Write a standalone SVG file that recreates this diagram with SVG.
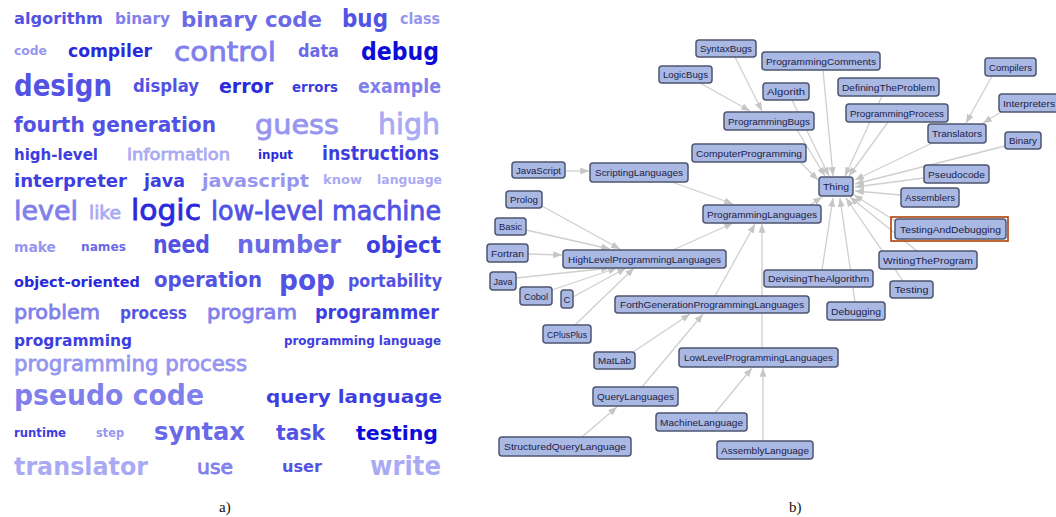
<svg xmlns="http://www.w3.org/2000/svg" width="1056" height="517" viewBox="0 0 1056 517">
<style>
.w{font-family:"DejaVu Sans","Liberation Sans",sans-serif;font-weight:bold;stroke-width:0}
.r{font-weight:normal;stroke-width:0.8}
.c1{fill:#0c0cd8;stroke:#0c0cd8}.c2{fill:#2a2adc;stroke:#2a2adc}.c3{fill:#3e3ee0;stroke:#3e3ee0}.c4{fill:#5252e4;stroke:#5252e4}.c5{fill:#6a6ae8;stroke:#6a6ae8}.c6{fill:#8080ec;stroke:#8080ec}.c7{fill:#9696f0;stroke:#9696f0}.c8{fill:#aaaaf4;stroke:#aaaaf4}
.n rect{fill:#aab8e4;stroke:#4e5570;stroke-width:1.5}
.n text{font-family:"Liberation Sans",Arial,sans-serif;font-size:9.5px;fill:#1c2244;text-anchor:middle}
.e line{stroke:#cfcfcf;stroke-width:1.3;marker-end:url(#ah)}
.cap{font-family:"Liberation Serif","Times New Roman",serif;font-size:15px;fill:#111}
</style>
<defs>
<marker id="ah" viewBox="0 0 10 8" refX="10" refY="4" markerWidth="9" markerHeight="7" markerUnits="userSpaceOnUse" orient="auto"><path d="M0,0 L10,4 L0,8 z" fill="#c6c6c6"/></marker>
</defs>
<rect width="1056" height="517" fill="#fff"/>
<g id="wordcloud">
<text class="w c4" x="14" y="24" font-size="16" textLength="89" lengthAdjust="spacingAndGlyphs">algorithm</text>
<text class="w c6" x="115" y="24" font-size="15" textLength="55" lengthAdjust="spacingAndGlyphs">binary</text>
<text class="w c5" x="181" y="27" font-size="22" textLength="141" lengthAdjust="spacingAndGlyphs">binary code</text>
<text class="w c4" x="342" y="27" font-size="25" textLength="46" lengthAdjust="spacingAndGlyphs">bug</text>
<text class="w c7" x="400" y="24" font-size="15" textLength="40" lengthAdjust="spacingAndGlyphs">class</text>

<text class="w c7" x="14" y="55" font-size="12" textLength="33" lengthAdjust="spacingAndGlyphs">code</text>
<text class="w c2" x="68" y="57" font-size="17" textLength="84" lengthAdjust="spacingAndGlyphs">compiler</text>
<text class="w r c6" x="174" y="61" font-size="27" textLength="102" lengthAdjust="spacingAndGlyphs">control</text>
<text class="w c5" x="298" y="57" font-size="17" textLength="41" lengthAdjust="spacingAndGlyphs">data</text>
<text class="w c1" x="361" y="60" font-size="25" textLength="78" lengthAdjust="spacingAndGlyphs">debug</text>

<text class="w c4" x="14" y="96" font-size="30" textLength="98" lengthAdjust="spacingAndGlyphs">design</text>
<text class="w c4" x="133" y="92" font-size="17" textLength="66" lengthAdjust="spacingAndGlyphs">display</text>
<text class="w c2" x="219" y="93" font-size="20" textLength="54" lengthAdjust="spacingAndGlyphs">error</text>
<text class="w c3" x="292" y="92" font-size="14" textLength="46" lengthAdjust="spacingAndGlyphs">errors</text>
<text class="w c6" x="358" y="93" font-size="19" textLength="83" lengthAdjust="spacingAndGlyphs">example</text>

<text class="w c4" x="14" y="132" font-size="21" textLength="202" lengthAdjust="spacingAndGlyphs">fourth generation</text>
<text class="w r c7" x="255" y="134" font-size="27" textLength="84" lengthAdjust="spacingAndGlyphs">guess</text>
<text class="w r c8" x="378" y="134" font-size="28" textLength="62" lengthAdjust="spacingAndGlyphs">high</text>

<text class="w c3" x="14" y="160" font-size="16" textLength="84" lengthAdjust="spacingAndGlyphs">high-level</text>
<text class="w r c8" x="127" y="160" font-size="16" textLength="103" lengthAdjust="spacingAndGlyphs">information</text>
<text class="w c2" x="258" y="159" font-size="13" textLength="35" lengthAdjust="spacingAndGlyphs">input</text>
<text class="w c3" x="322" y="160" font-size="19" textLength="117" lengthAdjust="spacingAndGlyphs">instructions</text>

<text class="w c3" x="14" y="187" font-size="17" textLength="113" lengthAdjust="spacingAndGlyphs">interpreter</text>
<text class="w c3" x="144" y="187" font-size="17" textLength="41" lengthAdjust="spacingAndGlyphs">java</text>
<text class="w c7" x="202" y="187" font-size="17" textLength="107" lengthAdjust="spacingAndGlyphs">javascript</text>
<text class="w c8" x="323" y="184" font-size="12" textLength="39" lengthAdjust="spacingAndGlyphs">know</text>
<text class="w c8" x="377" y="184" font-size="12" textLength="65" lengthAdjust="spacingAndGlyphs">language</text>

<text class="w r c6" x="14" y="220" font-size="27" textLength="64" lengthAdjust="spacingAndGlyphs">level</text>
<text class="w r c8" x="89" y="219" font-size="17" textLength="32" lengthAdjust="spacingAndGlyphs">like</text>
<text class="w r c2" x="131" y="220" font-size="29" textLength="70" lengthAdjust="spacingAndGlyphs">logic</text>
<text class="w r c4" x="211" y="220" font-size="26" textLength="230" lengthAdjust="spacingAndGlyphs">low-level machine</text>

<text class="w c7" x="14" y="252" font-size="14" textLength="42" lengthAdjust="spacingAndGlyphs">make</text>
<text class="w c5" x="81" y="251" font-size="13" textLength="45" lengthAdjust="spacingAndGlyphs">names</text>
<text class="w c4" x="153" y="253" font-size="24" textLength="57" lengthAdjust="spacingAndGlyphs">need</text>
<text class="w c5" x="237" y="253" font-size="24" textLength="104" lengthAdjust="spacingAndGlyphs">number</text>
<text class="w c3" x="366" y="253" font-size="23" textLength="75" lengthAdjust="spacingAndGlyphs">object</text>

<text class="w c2" x="14" y="287" font-size="14" textLength="126" lengthAdjust="spacingAndGlyphs">object-oriented</text>
<text class="w c4" x="154" y="287" font-size="21" textLength="108" lengthAdjust="spacingAndGlyphs">operation</text>
<text class="w c4" x="279" y="290" font-size="29" textLength="56" lengthAdjust="spacingAndGlyphs">pop</text>
<text class="w c4" x="348" y="287" font-size="17" textLength="94" lengthAdjust="spacingAndGlyphs">portability</text>

<text class="w r c6" x="14" y="319" font-size="20" textLength="86" lengthAdjust="spacingAndGlyphs">problem</text>
<text class="w c4" x="120" y="319" font-size="17" textLength="67" lengthAdjust="spacingAndGlyphs">process</text>
<text class="w r c6" x="207" y="319" font-size="20" textLength="90" lengthAdjust="spacingAndGlyphs">program</text>
<text class="w c3" x="315" y="319" font-size="19" textLength="124" lengthAdjust="spacingAndGlyphs">programmer</text>

<text class="w c3" x="14" y="346" font-size="16" textLength="118" lengthAdjust="spacingAndGlyphs">programming</text>
<text class="w c3" x="284" y="345" font-size="12" textLength="157" lengthAdjust="spacingAndGlyphs">programming language</text>

<text class="w r c7" x="14" y="371" font-size="21" textLength="233" lengthAdjust="spacingAndGlyphs">programming process</text>

<text class="w c6" x="14" y="405" font-size="28" textLength="190" lengthAdjust="spacingAndGlyphs">pseudo code</text>
<text class="w c3" x="266" y="403" font-size="18" textLength="176" lengthAdjust="spacingAndGlyphs">query language</text>

<text class="w c3" x="14" y="437" font-size="12" textLength="52" lengthAdjust="spacingAndGlyphs">runtime</text>
<text class="w c7" x="96" y="437" font-size="12" textLength="28" lengthAdjust="spacingAndGlyphs">step</text>
<text class="w c5" x="154" y="440" font-size="24" textLength="91" lengthAdjust="spacingAndGlyphs">syntax</text>
<text class="w c4" x="276" y="440" font-size="21" textLength="49" lengthAdjust="spacingAndGlyphs">task</text>
<text class="w c1" x="356" y="440" font-size="20" textLength="82" lengthAdjust="spacingAndGlyphs">testing</text>

<text class="w c8" x="14" y="475" font-size="25" textLength="134" lengthAdjust="spacingAndGlyphs">translator</text>
<text class="w r c6" x="197" y="474" font-size="19" textLength="36" lengthAdjust="spacingAndGlyphs">use</text>
<text class="w c4" x="282" y="472" font-size="16" textLength="40" lengthAdjust="spacingAndGlyphs">user</text>
<text class="w c8" x="370" y="475" font-size="27" textLength="71" lengthAdjust="spacingAndGlyphs">write</text>
</g>

<g id="connectors" class="e">
<line x1="735" y1="57" x2="762" y2="111"/>
<line x1="700" y1="83" x2="750" y2="111"/>
<line x1="823" y1="70" x2="833" y2="176"/>
<line x1="792" y1="100" x2="829" y2="176"/>
<line x1="882" y1="96" x2="845" y2="176"/>
<line x1="888" y1="122" x2="849" y2="176"/>
<line x1="797" y1="130" x2="825" y2="176"/>
<line x1="992" y1="76" x2="966" y2="123"/>
<line x1="1003" y1="111" x2="983" y2="123"/>
<line x1="932" y1="143" x2="855" y2="180"/>
<line x1="1005" y1="146" x2="855" y2="184"/>
<line x1="924" y1="178" x2="855" y2="187"/>
<line x1="901" y1="195" x2="855" y2="191"/>
<line x1="800" y1="162" x2="818" y2="180"/>
<line x1="810" y1="205" x2="822" y2="197"/>
<line x1="897" y1="222" x2="854" y2="195"/>
<line x1="917" y1="251" x2="850" y2="197"/>
<line x1="903" y1="281" x2="846" y2="198"/>
<line x1="855" y1="302" x2="840" y2="198"/>
<line x1="822" y1="270" x2="833" y2="198"/>
<line x1="565" y1="171" x2="589" y2="171"/>
<line x1="672" y1="182" x2="733" y2="204"/>
<line x1="542" y1="206" x2="620" y2="249"/>
<line x1="526" y1="230" x2="610" y2="249"/>
<line x1="528" y1="254" x2="562" y2="255"/>
<line x1="516" y1="278" x2="610" y2="268"/>
<line x1="552" y1="290" x2="617" y2="268"/>
<line x1="573" y1="297" x2="626" y2="268"/>
<line x1="575" y1="325" x2="634" y2="268"/>
<line x1="673" y1="250" x2="733" y2="223"/>
<line x1="715" y1="296" x2="755" y2="224"/>
<line x1="762" y1="348" x2="762" y2="224"/>
<line x1="633" y1="352" x2="690" y2="314"/>
<line x1="642" y1="387" x2="703" y2="314"/>
<line x1="582" y1="437" x2="617" y2="407"/>
<line x1="715" y1="413" x2="752" y2="368"/>
<line x1="763" y1="441" x2="763" y2="368"/>
</g>

<g id="SyntaxBugs" class="n"><rect x="696" y="40" width="60" height="17" rx="3"/><text x="726" y="52" textLength="52" lengthAdjust="spacingAndGlyphs">SyntaxBugs</text></g>
<g id="ProgrammingComments" class="n"><rect x="762" y="52" width="118" height="18" rx="3"/><text x="821" y="64.5" textLength="110" lengthAdjust="spacingAndGlyphs">ProgrammingComments</text></g>
<g id="LogicBugs" class="n"><rect x="659" y="66" width="53" height="17" rx="3"/><text x="685.5" y="78" textLength="45" lengthAdjust="spacingAndGlyphs">LogicBugs</text></g>
<g id="Algorith" class="n"><rect x="763" y="83" width="46" height="17" rx="3"/><text x="786" y="95" textLength="38" lengthAdjust="spacingAndGlyphs">Algorith</text></g>
<g id="DefiningTheProblem" class="n"><rect x="838" y="78" width="101" height="18" rx="3"/><text x="888.5" y="90.5" textLength="93" lengthAdjust="spacingAndGlyphs">DefiningTheProblem</text></g>
<g id="Compilers" class="n"><rect x="985" y="58" width="51" height="18" rx="3"/><text x="1010.5" y="70.5" textLength="43" lengthAdjust="spacingAndGlyphs">Compilers</text></g>
<g id="Interpreters" class="n"><rect x="999" y="94" width="60" height="18" rx="3"/><text x="1029" y="106.5" textLength="52" lengthAdjust="spacingAndGlyphs">Interpreters</text></g>
<g id="ProgrammingProcess" class="n"><rect x="846" y="104" width="102" height="18" rx="3"/><text x="897" y="116.5" textLength="94" lengthAdjust="spacingAndGlyphs">ProgrammingProcess</text></g>
<g id="ProgrammingBugs" class="n"><rect x="724" y="112" width="90" height="18" rx="3"/><text x="769" y="124.5" textLength="82" lengthAdjust="spacingAndGlyphs">ProgrammingBugs</text></g>
<g id="Translators" class="n"><rect x="928" y="124" width="58" height="19" rx="3"/><text x="957" y="137" textLength="50" lengthAdjust="spacingAndGlyphs">Translators</text></g>
<g id="Binary" class="n"><rect x="1005" y="132" width="36" height="17" rx="3"/><text x="1023" y="144" textLength="28" lengthAdjust="spacingAndGlyphs">Binary</text></g>
<g id="ComputerProgramming" class="n"><rect x="692" y="144" width="114" height="18" rx="3"/><text x="749" y="156.5" textLength="106" lengthAdjust="spacingAndGlyphs">ComputerProgramming</text></g>
<g id="JavaScript" class="n"><rect x="512" y="162" width="53" height="16" rx="3"/><text x="538.5" y="173.5" textLength="45" lengthAdjust="spacingAndGlyphs">JavaScript</text></g>
<g id="ScriptingLanguages" class="n"><rect x="590" y="163" width="98" height="19" rx="3"/><text x="639" y="176" textLength="88" lengthAdjust="spacingAndGlyphs">ScriptingLanguages</text></g>
<g id="Thing" class="n"><rect x="819" y="177" width="34" height="19" rx="3"/><text x="836" y="190" textLength="26" lengthAdjust="spacingAndGlyphs">Thing</text></g>
<g id="Pseudocode" class="n"><rect x="924" y="165" width="65" height="18" rx="3"/><text x="956.5" y="177.5" textLength="57" lengthAdjust="spacingAndGlyphs">Pseudocode</text></g>
<g id="Assemblers" class="n"><rect x="901" y="188" width="58" height="19" rx="3"/><text x="930" y="201" textLength="50" lengthAdjust="spacingAndGlyphs">Assemblers</text></g>
<g id="Prolog" class="n"><rect x="506" y="191" width="36" height="17" rx="3"/><text x="524" y="203" textLength="28" lengthAdjust="spacingAndGlyphs">Prolog</text></g>
<g id="ProgrammingLanguages" class="n"><rect x="703" y="205" width="118" height="18" rx="3"/><text x="762" y="217.5" textLength="110" lengthAdjust="spacingAndGlyphs">ProgrammingLanguages</text></g>
<g id="TestingAndDebugging" class="n"><rect x="891" y="217" width="117" height="24" fill="none" style="fill:none;stroke:#b0400c;stroke-width:1.6"/><rect x="895" y="219" width="111" height="20" rx="3"/><text x="950.5" y="232.5" textLength="101" lengthAdjust="spacingAndGlyphs">TestingAndDebugging</text></g>
<g id="Basic" class="n"><rect x="495" y="218" width="31" height="17" rx="3"/><text x="510.5" y="230" textLength="23" lengthAdjust="spacingAndGlyphs">Basic</text></g>
<g id="Fortran" class="n"><rect x="487" y="244" width="41" height="18" rx="3"/><text x="507.5" y="256.5" textLength="33" lengthAdjust="spacingAndGlyphs">Fortran</text></g>
<g id="HighLevelProgrammingLanguages" class="n"><rect x="563" y="250" width="163" height="18" rx="3"/><text x="644.5" y="262.5" textLength="153" lengthAdjust="spacingAndGlyphs">HighLevelProgrammingLanguages</text></g>
<g id="WritingTheProgram" class="n"><rect x="879" y="251" width="98" height="18" rx="3"/><text x="928" y="263.5" textLength="90" lengthAdjust="spacingAndGlyphs">WritingTheProgram</text></g>
<g id="DevisingTheAlgorithm" class="n"><rect x="764" y="270" width="109" height="17" rx="3"/><text x="818.5" y="282" textLength="101" lengthAdjust="spacingAndGlyphs">DevisingTheAlgorithm</text></g>
<g id="Java" class="n"><rect x="490" y="272" width="26" height="18" rx="3"/><text x="503" y="284.5" textLength="19" lengthAdjust="spacingAndGlyphs">Java</text></g>
<g id="Testing" class="n"><rect x="890" y="281" width="43" height="17" rx="3"/><text x="911.5" y="293" textLength="34" lengthAdjust="spacingAndGlyphs">Testing</text></g>
<g id="Cobol" class="n"><rect x="520" y="287" width="32" height="18" rx="3"/><text x="536" y="299.5" textLength="24" lengthAdjust="spacingAndGlyphs">Cobol</text></g>
<g id="C" class="n"><rect x="561" y="290" width="12" height="18" rx="3"/><text x="567" y="302.5">C</text></g>
<g id="ForthGenerationProgrammingLanguages" class="n"><rect x="615" y="296" width="194" height="17" rx="3"/><text x="712" y="308" textLength="184" lengthAdjust="spacingAndGlyphs">ForthGenerationProgrammingLanguages</text></g>
<g id="Debugging" class="n"><rect x="827" y="302" width="58" height="18" rx="3"/><text x="856" y="314.5" textLength="50" lengthAdjust="spacingAndGlyphs">Debugging</text></g>
<g id="CPlusPlus" class="n"><rect x="543" y="325" width="48" height="18" rx="3"/><text x="567" y="337.5" textLength="40" lengthAdjust="spacingAndGlyphs">CPlusPlus</text></g>
<g id="LowLevelProgrammingLanguages" class="n"><rect x="679" y="348" width="159" height="19" rx="3"/><text x="758.5" y="361" textLength="149" lengthAdjust="spacingAndGlyphs">LowLevelProgrammingLanguages</text></g>
<g id="MatLab" class="n"><rect x="594" y="352" width="41" height="17" rx="3"/><text x="614.5" y="364" textLength="33" lengthAdjust="spacingAndGlyphs">MatLab</text></g>
<g id="QueryLanguages" class="n"><rect x="593" y="387" width="85" height="19" rx="3"/><text x="635.5" y="400" textLength="77" lengthAdjust="spacingAndGlyphs">QueryLanguages</text></g>
<g id="MachineLanguage" class="n"><rect x="656" y="413" width="91" height="18" rx="3"/><text x="701.5" y="425.5" textLength="83" lengthAdjust="spacingAndGlyphs">MachineLanguage</text></g>
<g id="StructuredQueryLanguage" class="n"><rect x="499" y="437" width="132" height="19" rx="3"/><text x="565" y="450" textLength="122" lengthAdjust="spacingAndGlyphs">StructuredQueryLanguage</text></g>
<g id="AssemblyLanguage" class="n"><rect x="717" y="441" width="96" height="18" rx="3"/><text x="765" y="453.5" textLength="88" lengthAdjust="spacingAndGlyphs">AssemblyLanguage</text></g>

<text class="cap" x="219" y="512">a)</text>
<text class="cap" x="789" y="512">b)</text>
</svg>
